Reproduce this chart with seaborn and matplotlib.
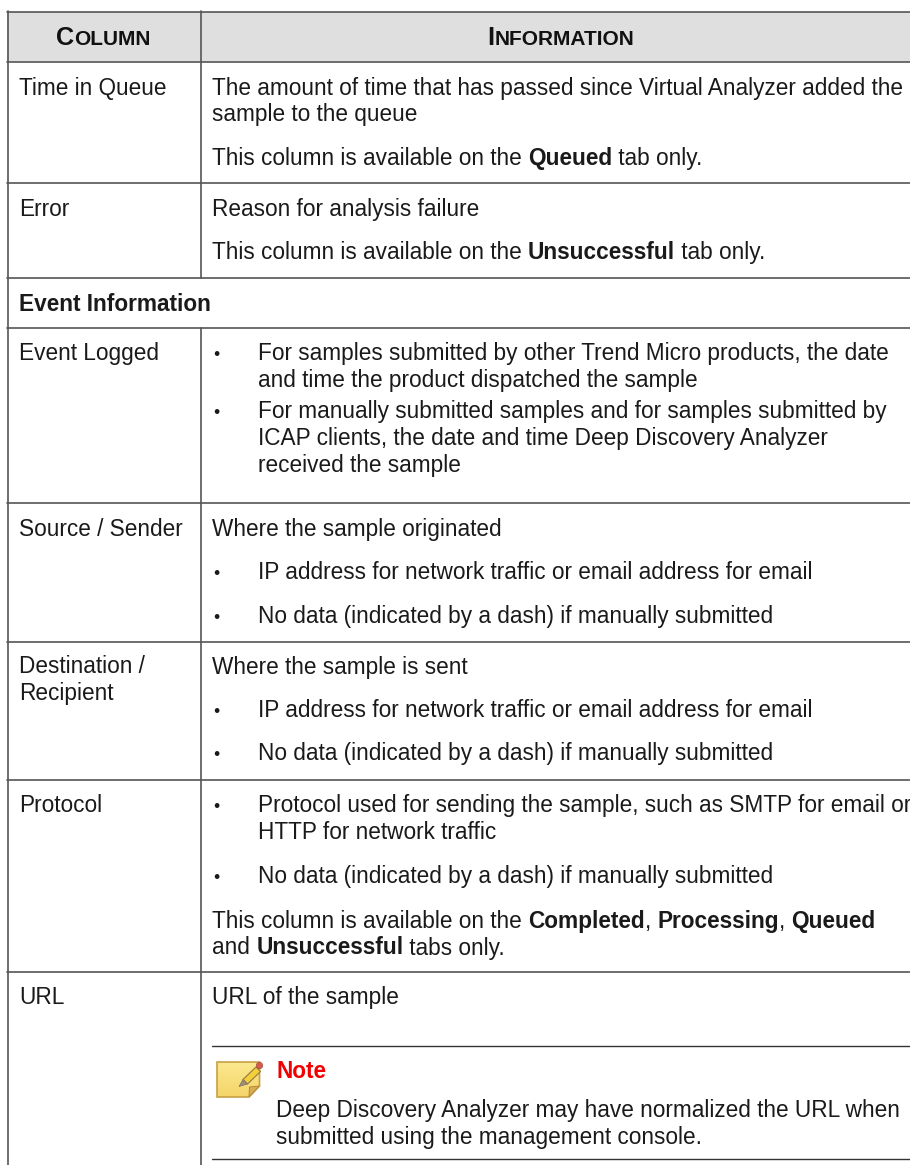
import numpy as np
import pandas as pd
import matplotlib
matplotlib.use('Agg')
import matplotlib.pyplot as plt
import seaborn as sns
from matplotlib.patches import Polygon, Rectangle, Circle
from matplotlib.font_manager import FontProperties

# --- table content ---
header_labels = [('C', 'OLUMN'), ('I', 'NFORMATION')]
left_labels = ['Time in Queue', 'Error', 'Event Logged', 'Source / Sender',
               'Destination /', 'Recipient', 'Protocol', 'URL']
section_label = 'Event Information'
plain_lines = [
    'The amount of time that has passed since Virtual Analyzer added the',
    'sample to the queue',
    'This column is available on the **Queued** tab only.',
    'Reason for analysis failure',
    'This column is available on the **Unsuccessful** tab only.',
    'Where the sample originated',
    'Where the sample is sent',
    'This column is available on the **Completed**, **Processing**, **Queued**',
    'and **Unsuccessful** tabs only.',
    'URL of the sample',
]
bullet_lines = [
    'For samples submitted by other Trend Micro products, the date',
    'and time the product dispatched the sample',
    'For manually submitted samples and for samples submitted by',
    'ICAP clients, the date and time Deep Discovery Analyzer',
    'received the sample',
    'IP address for network traffic or email address for email',
    'No data (indicated by a dash) if manually submitted',
    'IP address for network traffic or email address for email',
    'No data (indicated by a dash) if manually submitted',
    'Protocol used for sending the sample, such as SMTP for email or',
    'HTTP for network traffic',
    'No data (indicated by a dash) if manually submitted',
]
note_title = 'Note'
note_lines = ['Deep Discovery Analyzer may have normalized the URL when',
              'submitted using the management console.']

# --- layout, in pixels of the page ---
left_base = [94.5, 216, 360, 536, 673, 700, 812, 1004]
plain_base = [94.5, 121, 165, 216, 259, 536, 674, 928, 954.5, 1004]
bullet_base = [360, 387, 418, 445, 472, 579, 623, 717, 760, 812, 839, 883]
has_bullet = [1, 0, 1, 0, 0, 1, 1, 1, 1, 1, 0, 1]
row_rules = [11.5, 62, 183, 278, 328, 503, 642, 780, 972]

FONT = 'Liberation Sans'
SIZE = 16.25
CAP_BIG = 18.2
CAP_SMALL = 15.0
INK = '#1a1a1a'
RULE = '#555555'

sns.set_theme(style='white')
plt.rcParams['font.family'] = [FONT, 'DejaVu Sans']

fig = plt.figure(figsize=(9.1, 11.65), dpi=100)
ax = fig.add_axes([0, 0, 1, 1])
renderer = fig.canvas.get_renderer()


def text_width(s, size=SIZE, weight='normal'):
    # the bar keeps a trailing space in the measured width
    fp = FontProperties(family=FONT, size=size, weight=weight)
    w1 = renderer.get_text_width_height_descent(s + '|', fp, False)[0]
    w2 = renderer.get_text_width_height_descent('|', fp, False)[0]
    return w1 - w2


def draw_runs(x, y, line):
    # ** switches between regular and bold
    for i, part in enumerate(line.split('**')):
        weight = 'bold' if i % 2 else 'normal'
        ax.text(x, y, part, fontsize=SIZE, fontweight=weight, color=INK, va='baseline', ha='left')
        x += text_width(part, SIZE, weight)


def draw_small_caps(cx, y, pair):
    big, small = pair
    w = text_width(big, CAP_BIG, 'bold') + text_width(small, CAP_SMALL, 'bold')
    x = cx - w / 2
    ax.text(x, y, big, fontsize=CAP_BIG, fontweight='bold', color='#111111', va='baseline')
    ax.text(x + text_width(big, CAP_BIG, 'bold'), y, small, fontsize=CAP_SMALL, fontweight='bold',
            color='#111111', va='baseline')


# header band
ax.add_patch(Rectangle((7, 11.5), 903, 50.5, facecolor='#dfdfdf', edgecolor='none', zorder=0))

# table rules go through seaborn, one unit per segment
segments = []
for i, y in enumerate(row_rules):
    segments.append({'seg': f'h{i}', 'x': 7, 'y': y})
    segments.append({'seg': f'h{i}', 'x': 910, 'y': y})
segments += [{'seg': 'v0', 'x': 7.5, 'y': 11}, {'seg': 'v0', 'x': 7.5, 'y': 1165},
             {'seg': 'v1', 'x': 200.5, 'y': 11}, {'seg': 'v1', 'x': 200.5, 'y': 278},
             {'seg': 'v2', 'x': 200.5, 'y': 328}, {'seg': 'v2', 'x': 200.5, 'y': 1165}]
rules = pd.DataFrame(segments)
sns.lineplot(data=rules, x='x', y='y', units='seg', estimator=None, sort=False,
             color=RULE, linewidth=1.2, ax=ax, legend=False)

# rules of the note box
note_rules = pd.DataFrame({'seg': ['a', 'a', 'b', 'b'], 'x': [212, 910, 212, 910],
                           'y': [1045.5, 1045.5, 1158.5, 1158.5]})
sns.lineplot(data=note_rules, x='x', y='y', units='seg', estimator=None, sort=False,
             color='#333333', linewidth=1.0, ax=ax, legend=False)

# text
draw_small_caps(103, 45, header_labels[0])
draw_small_caps(561, 45, header_labels[1])
for label, y in zip(left_labels, left_base):
    draw_runs(19, y, label)
ax.text(19, 311, section_label, fontsize=SIZE, fontweight='bold', color=INK, va='baseline')
for line, y in zip(plain_lines, plain_base):
    draw_runs(212, y, line)
for line, y, b in zip(bullet_lines, bullet_base, has_bullet):
    draw_runs(258, y, line)
    if b:
        ax.text(213, y, '•', fontsize=SIZE - 3.5, color=INK, va='baseline')

# note
ax.text(276.5, 1078, note_title, fontsize=SIZE, fontweight='bold', color='#f00000', va='baseline')
draw_runs(276.5, 1117, note_lines[0])
draw_runs(276.5, 1144, note_lines[1])

# note icon: paper with a fold and a pencil
corners = [(217, 1062), (259.5, 1062), (259.5, 1086), (249, 1097), (217, 1097)]
shade = np.linspace(0, 1, 32).reshape(-1, 1)
paper = ax.imshow(shade, extent=(217, 259.5, 1097, 1062), aspect='auto', zorder=2,
                  cmap=sns.blend_palette(['#fbe88f', '#f5d56a'], as_cmap=True))
paper.set_clip_path(Polygon(corners, transform=ax.transData))
ax.add_patch(Polygon(corners, closed=True, fill=False, edgecolor='#c8a044', linewidth=1.2, zorder=3))
ax.add_patch(Polygon([(249, 1097), (259.5, 1086), (249.5, 1087)], closed=True, facecolor='#d8ac52',
                     edgecolor='#b68a35', linewidth=0.7, zorder=3))
ax.add_patch(Polygon([(243, 1079.5), (256, 1067), (260.5, 1071.5), (247.5, 1084)], closed=True,
                     facecolor='#f4cf3a', edgecolor='#8f7a3a', linewidth=0.8, zorder=4))
ax.add_patch(Polygon([(239, 1086.5), (243, 1079.5), (247.5, 1084)], closed=True, facecolor='#9c8f76',
                     edgecolor='#7d7260', linewidth=0.5, zorder=5))
ax.add_patch(Circle((259.5, 1065.5), 3.2, facecolor='#d65a50', edgecolor='#a84a44', linewidth=0.5, zorder=5))

ax.set_xlim(0, 910)
ax.set_ylim(1165, 0)
ax.axis('off')

fig.savefig('out.png', dpi=100)
